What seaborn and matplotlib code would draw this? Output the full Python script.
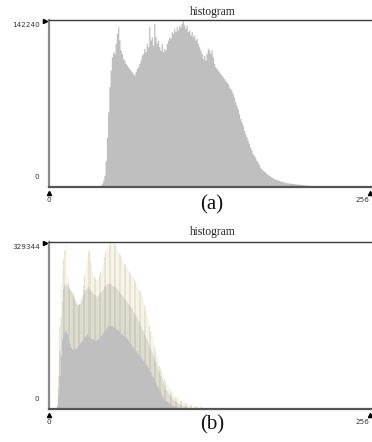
import numpy as np
import pandas as pd
import matplotlib
matplotlib.use("Agg")
import matplotlib.pyplot as plt
from matplotlib.lines import Line2D
import seaborn as sns

# ---------------- data ----------------
levels = list(range(256))
YMAX_A = 142240
YMAX_B = 329344
title_text = "histogram"
panel_labels = ["(a)", "(b)"]
x_tick_labels = ["0", "256"]

# panel (a): bin counts relative to 142240
hist_a_rel = ([0.0] * 41 + [
    0.01, 0.02, 0.04, 0.07, 0.16, 0.30, 0.45, 0.60, 0.70,             # 41-49
    0.78, 0.81, 0.80, 0.86, 0.92, 0.96, 0.88, 0.82, 0.80, 0.77,       # 50-59
    0.76, 0.74, 0.73, 0.72, 0.71, 0.70, 0.69, 0.68, 0.67, 0.69,       # 60-69
    0.71, 0.72, 0.74, 0.76, 0.79, 0.80, 0.83, 0.81, 0.86, 0.84,       # 70-79
    0.96, 0.88, 0.90, 0.85, 0.98, 0.90, 0.86, 0.88, 0.84, 0.82,       # 80-89
    0.86, 0.81, 0.83, 0.82, 0.86, 0.88, 0.90, 0.89, 0.93, 0.92,       # 90-99
    0.95, 0.93, 0.96, 0.94, 0.97, 0.96, 0.98, 1.00, 0.97, 0.95,       # 100-109
    0.97, 0.93, 0.94, 0.91, 0.93, 0.90, 0.91, 0.88, 0.89, 0.86,       # 110-119
    0.84, 0.82, 0.80, 0.77, 0.79, 0.76, 0.80, 0.83, 0.82, 0.80,       # 120-129
    0.82, 0.78, 0.74, 0.72, 0.71, 0.70, 0.69, 0.68, 0.67, 0.66,       # 130-139
    0.65, 0.64, 0.63, 0.62, 0.60, 0.59, 0.58, 0.56, 0.54, 0.51,       # 140-149
    0.49, 0.47, 0.44, 0.41, 0.39, 0.37, 0.34, 0.32, 0.30, 0.28,       # 150-159
    0.26, 0.24, 0.22, 0.20, 0.19, 0.18, 0.16, 0.15, 0.135, 0.12,      # 160-169
    0.11, 0.10, 0.095, 0.09, 0.08, 0.075, 0.07, 0.065, 0.06, 0.055,   # 170-179
    0.05, 0.047, 0.044, 0.042, 0.04, 0.037, 0.034, 0.032, 0.030, 0.028,  # 180-189
    0.026, 0.025, 0.024, 0.023, 0.022, 0.021, 0.020, 0.019, 0.018, 0.018,  # 190-199
    0.017, 0.016, 0.015, 0.014, 0.013, 0.012, 0.011, 0.010, 0.010, 0.009,  # 200-209
    0.009, 0.008, 0.008, 0.007, 0.007, 0.006, 0.006, 0.006, 0.005, 0.005,  # 210-219
    0.005, 0.004, 0.004, 0.004, 0.004, 0.004, 0.003, 0.003, 0.003, 0.003,  # 220-229
    0.003, 0.002, 0.002, 0.002, 0.002, 0.002, 0.002, 0.002, 0.002, 0.002,  # 230-239
    0.002, 0.001, 0.001, 0.001, 0.001, 0.001, 0.001, 0.001, 0.001, 0.001,  # 240-249
    0.001, 0.001, 0.001, 0.001, 0.001, 0.001])                             # 250-255

# panel (b): three envelopes relative to 329344 (bins 0-130, rest zero)
hist_b_upper_rel = ([0.0] * 6 + [
    0.05, 0.20, 0.50, 0.75,                                            # 6-9
    0.85, 0.90, 0.95, 0.99, 0.80, 0.76, 0.72, 0.68, 0.64, 0.61,       # 10-19
    0.58, 0.56, 0.55, 0.55, 0.57, 0.62, 0.68, 0.74, 0.80, 0.85,       # 20-29
    0.90, 0.94, 0.95, 0.88, 0.83, 0.80, 0.79, 0.78, 0.78, 0.79,       # 30-39
    0.80, 0.82, 0.85, 0.88, 0.91, 0.94, 0.96, 0.97, 0.98, 0.99,       # 40-49
    0.99, 0.99, 0.99, 0.98, 0.96, 0.94, 0.93, 0.92, 0.90, 0.88,       # 50-59
    0.87, 0.86, 0.85, 0.84, 0.82, 0.81, 0.80, 0.79, 0.78, 0.76,       # 60-69
    0.74, 0.72, 0.71, 0.70, 0.68, 0.65, 0.62, 0.59, 0.56, 0.54,       # 70-79
    0.50, 0.47, 0.44, 0.41, 0.38, 0.35, 0.32, 0.29, 0.26, 0.24,       # 80-89
    0.22, 0.20, 0.18, 0.16, 0.15, 0.14, 0.12, 0.11, 0.10, 0.09,       # 90-99
    0.08, 0.07, 0.065, 0.06, 0.055, 0.05, 0.045, 0.042, 0.04, 0.037,  # 100-109
    0.035, 0.03, 0.028, 0.026, 0.024, 0.022, 0.02, 0.018, 0.016, 0.014,  # 110-119
    0.012, 0.01, 0.009, 0.008, 0.007, 0.006, 0.005, 0.004, 0.003, 0.002,  # 120-129
    0.001] + [0.0] * 125)

hist_b_mid_rel = ([0.0] * 6 + [
    0.03, 0.12, 0.35, 0.55,                                            # 6-9
    0.65, 0.72, 0.74, 0.75, 0.74, 0.73, 0.72, 0.71, 0.70, 0.68,       # 10-19
    0.66, 0.64, 0.63, 0.62, 0.63, 0.65, 0.67, 0.69, 0.71, 0.72,       # 20-29
    0.73, 0.73, 0.72, 0.71, 0.70, 0.69, 0.68, 0.68, 0.67, 0.68,       # 30-39
    0.69, 0.70, 0.71, 0.72, 0.73, 0.74, 0.75, 0.75, 0.75, 0.75,       # 40-49
    0.74, 0.74, 0.73, 0.73, 0.72, 0.71, 0.70, 0.69, 0.68, 0.67,       # 50-59
    0.66, 0.65, 0.64, 0.63, 0.62, 0.61, 0.60, 0.58, 0.57, 0.56,       # 60-69
    0.55, 0.53, 0.52, 0.50, 0.48, 0.47, 0.45, 0.43, 0.42, 0.40,       # 70-79
    0.38, 0.36, 0.34, 0.32, 0.30, 0.28, 0.26, 0.24, 0.22, 0.20,       # 80-89
    0.18, 0.16, 0.14, 0.12, 0.11, 0.10, 0.09, 0.08, 0.07, 0.06,       # 90-99
    0.05, 0.045, 0.04, 0.035, 0.03, 0.027, 0.024, 0.021, 0.018, 0.016,  # 100-109
    0.014, 0.012, 0.010, 0.009, 0.008, 0.007, 0.006, 0.005, 0.004, 0.003,  # 110-119
    0.002] + [0.0] * 135)

hist_b_lower_rel = ([0.0] * 6 + [
    0.02, 0.08, 0.20, 0.32,                                            # 6-9
    0.42, 0.45, 0.46, 0.47, 0.45, 0.42, 0.39, 0.37, 0.36, 0.36,       # 10-19
    0.37, 0.36, 0.37, 0.38, 0.39, 0.40, 0.41, 0.42, 0.43, 0.44,       # 20-29
    0.45, 0.44, 0.43, 0.42, 0.42, 0.42, 0.41, 0.41, 0.42, 0.42,       # 30-39
    0.43, 0.44, 0.45, 0.46, 0.47, 0.48, 0.49, 0.50, 0.50, 0.50,       # 40-49
    0.50, 0.49, 0.49, 0.48, 0.48, 0.47, 0.46, 0.45, 0.45, 0.44,       # 50-59
    0.43, 0.43, 0.42, 0.41, 0.40, 0.39, 0.38, 0.37, 0.36, 0.35,       # 60-69
    0.34, 0.33, 0.32, 0.31, 0.30, 0.29, 0.28, 0.27, 0.26, 0.25,       # 70-79
    0.23, 0.22, 0.20, 0.19, 0.17, 0.16, 0.14, 0.13, 0.11, 0.10,       # 80-89
    0.08, 0.07, 0.06, 0.05, 0.045, 0.04, 0.035, 0.03, 0.025, 0.02,    # 90-99
    0.018, 0.016, 0.014, 0.012, 0.011, 0.010, 0.009, 0.008, 0.007, 0.006,  # 100-109
    0.005, 0.004, 0.004, 0.003, 0.003, 0.003, 0.002, 0.002, 0.002, 0.001,  # 110-119
    0.001] + [0.0] * 135)

# ---------------- style ----------------
sns.set_style("white")
W, H = 372, 442
GRAY = "#bfbfbf"
UPPER_FILL = "#f6f4ea"
UPPER_LINE = "#e8e4cf"
MID_FILL = "#dedbcf"
MID_LINE = "#cfccc0"
SERIF = ["Liberation Serif", "DejaVu Serif"]
SANS = ["DejaVu Sans"]

fig = plt.figure(figsize=(W / 100, H / 100), dpi=100)
fig.patch.set_facecolor("white")


def fx(x):
    return x / W


def fy(y):
    return 1 - y / H


X0, XR = 49, 380           # axes left / right (right edge beyond the image)
X256 = 368                 # pixel of level 256
XLIM = 256 * (XR - X0) / (X256 - X0)
HIST_KW = dict(binwidth=1, binrange=(0, 256), alpha=1, linewidth=0)


def style_axes(ax, ymax):
    ax.set_xlim(0, XLIM)
    ax.set_ylim(0, ymax)
    ax.set_xticks([])
    ax.set_yticks([])
    ax.set_xlabel("")
    ax.set_ylabel("")
    ax.set_facecolor("white")
    ax.spines["left"].set_color("#8a8a8a")
    ax.spines["left"].set_linewidth(1.6)
    ax.spines["top"].set_color("#3a3a3a")
    ax.spines["top"].set_linewidth(1.0)
    ax.spines["bottom"].set_color("#555555")
    ax.spines["bottom"].set_linewidth(1.6)
    ax.spines["right"].set_visible(False)


# ---------------- panel (a) ----------------
axA = fig.add_axes([fx(X0), fy(187), (XR - X0) / W, 167 / H])
df_a = pd.DataFrame({"level": levels, "count": np.array(hist_a_rel) * YMAX_A})
sns.histplot(data=df_a, x="level", weights="count", element="step",
             fill=True, color=GRAY, ax=axA, **HIST_KW)
style_axes(axA, YMAX_A)

# ---------------- panel (b) ----------------
axB = fig.add_axes([fx(X0), fy(409), (XR - X0) / W, 167 / H])
df_b = pd.DataFrame({
    "level": levels,
    "upper": np.array(hist_b_upper_rel) * YMAX_B,
    "mid": np.array(hist_b_mid_rel) * YMAX_B,
    "lower": np.array(hist_b_lower_rel) * YMAX_B,
})
sns.histplot(data=df_b, x="level", weights="upper", element="step",
             fill=True, color=UPPER_FILL, ax=axB, **HIST_KW)
sns.histplot(data=df_b, x="level", weights="upper", element="bars",
             shrink=0.4, color=UPPER_LINE, ax=axB, **HIST_KW)
sns.histplot(data=df_b, x="level", weights="mid", element="step",
             fill=True, color=MID_FILL, ax=axB, **HIST_KW)
sns.histplot(data=df_b, x="level", weights="mid", element="bars",
             shrink=0.4, color=MID_LINE, ax=axB, **HIST_KW)
sns.histplot(data=df_b, x="level", weights="lower", element="step",
             fill=True, color=GRAY, ax=axB, **HIST_KW)
style_axes(axB, YMAX_B)

# ---------------- texts & markers ----------------
def annotate_panel(top, bottom, ymax, title_y, label, label_y, tri_y, num_y):
    fig.text(fx(213), fy(title_y), title_text, family=SERIF, fontsize=8.3,
             ha="center", va="center", color="#222222")
    fig.text(fx(40), fy(top + 5), f"{ymax}", family=SANS, fontsize=5.2,
             ha="right", va="center", color="#333333")
    fig.text(fx(39), fy(bottom - 10), "0", family=SANS, fontsize=5.2,
             ha="right", va="center", color="#333333")
    fig.add_artist(Line2D([fx(45)], [fy(top + 1)], marker=">", markersize=3,
                          color="black", linestyle="none",
                          transform=fig.transFigure))
    for xp, lx, txt in zip([X0, 370], [X0, 362], x_tick_labels):
        fig.add_artist(Line2D([fx(xp)], [fy(tri_y)], marker="^", markersize=3,
                              color="black", linestyle="none",
                              transform=fig.transFigure))
        fig.text(fx(lx), fy(num_y), txt, family=SANS, fontsize=5.2,
                 ha="center", va="center", color="#333333")
    fig.text(fx(212), fy(label_y), label, family=SERIF, fontsize=15,
             ha="center", va="center", color="#111111")


annotate_panel(20, 187, YMAX_A, 12, panel_labels[0], 205, 193, 200)
annotate_panel(242, 409, YMAX_B, 232, panel_labels[1], 425, 415, 422)

fig.savefig("out.png", dpi=100, facecolor="white")
